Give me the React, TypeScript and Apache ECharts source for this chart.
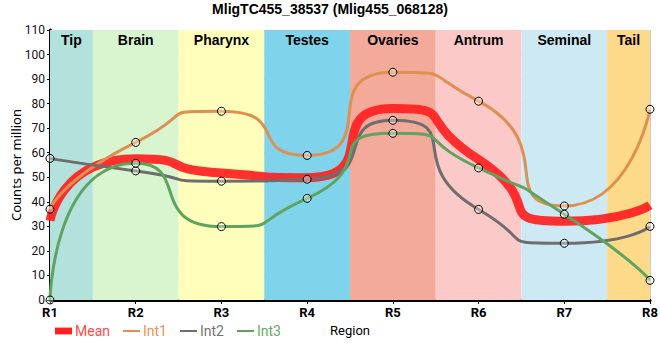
import React, { useEffect, useRef } from "react";
import * as echarts from "echarts";

const regions = ["R1", "R2", "R3", "R4", "R5", "R6", "R7", "R8"];
const tissues = ["Tip", "Brain", "Pharynx", "Testes", "Ovaries", "Antrum", "Seminal", "Tail"];
const tissueColors = ["#b3e2dd", "#d9f5d0", "#ffffbb", "#7fd3ea", "#f4aa9b", "#fcc9c9", "#cdeaf4", "#fdd98a"];
const yTicks = { min: 0, max: 110, interval: 10 };

const meanValues = [32.3, 57.5, 51.7, 49.8, 78, 57.2, 32.1, 38.6];
const int1Values = [37, 64.2, 76.9, 58.9, 92.8, 81, 38.3, 77.7];
const int2Values = [57.7, 52.6, 48.4, 49.2, 73.2, 36.9, 23.1, 30];
const int3Values = [0, 55.7, 29.9, 41.4, 67.9, 53.8, 34.9, 8];

const seriesNames = ["Mean", "Int1", "Int2", "Int3"];
const seriesColors = ["#ff2020", "#de8f52", "#6e6e6e", "#5fa35f"];
const legendTextColors = ["#ff4a4a", "#e5935a", "#737373", "#62a862"];

export default function App() {
  const ref = useRef<HTMLDivElement>(null);
  useEffect(() => {
    document.body.style.margin = "0";
    if (!ref.current) return;
    const chart = echarts.init(ref.current, null, { renderer: "svg" });
    const toPairs = (arr: number[]) => arr.map((v, i) => [i, v]);
    const last = regions.length - 1;
    const bandData = tissues.map((t, i) => [
      {
        name: t,
        xAxis: Math.max(0, i - 0.5),
        itemStyle: { color: tissueColors[i], opacity: 1 },
      },
      { xAxis: Math.min(last, i + 0.5) },
    ]);
    const symbolStyle = {
      color: "rgba(255,255,255,0.35)",
      borderColor: "#000",
      borderWidth: 1,
    };
    const allValues = [meanValues, int1Values, int2Values, int3Values];
    const lineSeries = allValues.map((vals, k) => ({
      name: seriesNames[k],
      type: "line",
      data: toPairs(vals),
      smooth: 0.8,
      z: k === 0 ? 2 : 3,
      showSymbol: k !== 0,
      symbol: k === 0 ? "none" : "circle",
      symbolSize: 8,
      itemStyle: symbolStyle,
      lineStyle: {
        color: seriesColors[k],
        width: k === 0 ? 9 : 3,
        opacity: k === 0 ? 0.92 : 1,
      },
      clip: false,
    }));
    chart.setOption({
      animation: false,
      title: {
        text: "MligTC455_38537 (Mlig455_068128)",
        left: "center",
        top: 2,
        padding: 0,
        textStyle: { fontFamily: "Liberation Sans", fontSize: 14, fontWeight: "bold", color: "#000" },
      },
      grid: { left: 50, right: 10, top: 30, bottom: 60, outerBoundsMode: "none", containLabel: false },
      legend: {
        left: 55,
        top: 324,
        padding: 0,
        itemGap: 13,
        itemWidth: 17,
        itemHeight: 8,
        selectedMode: false,
        textStyle: { fontFamily: "Roboto", fontSize: 14, padding: [0, 0, 0, -2] },
        data: seriesNames.map((n, k) => ({
          name: n,
          icon: k === 0 ? "path://M0,0H20V8H0Z" : "path://M0,0H20V2.4H0Z",
          itemStyle: { color: seriesColors[k], borderWidth: 0, opacity: 1 },
          textStyle: { color: legendTextColors[k] },
        })),
      },
      xAxis: [
        {
          type: "value",
          min: 0,
          max: last,
          interval: 1,
          name: "Region",
          nameLocation: "middle",
          nameGap: 24,
          nameMoveOverlap: false,
          nameTextStyle: { fontFamily: "Roboto", fontSize: 13, color: "#000" },
          axisLine: { show: true, lineStyle: { color: "#000", width: 3 } },
          axisTick: { show: true, length: 4, lineStyle: { color: "#000" } },
          axisLabel: {
            formatter: (v: number) => regions[v] ?? "",
            fontFamily: "Roboto",
            fontSize: 13,
            fontWeight: "bold",
            color: "#000",
            margin: 6,
          },
          splitLine: { show: true, lineStyle: { color: "#c8c8c8", width: 1 } },
        },
        {
          type: "value",
          position: "top",
          min: 0,
          max: last,
          axisLine: { show: true, lineStyle: { color: "#000", width: 2 } },
          axisTick: { show: false },
          axisLabel: { show: false },
          splitLine: { show: false },
        },
      ],
      yAxis: [
        {
          type: "value",
          min: yTicks.min,
          max: yTicks.max,
          interval: yTicks.interval,
          name: "Counts per million",
          nameLocation: "middle",
          nameGap: 28,
          nameMoveOverlap: false,
          nameRotate: 90,
          nameTextStyle: { fontFamily: "Noto Sans", fontSize: 13, color: "#000" },
          axisLine: { show: true, lineStyle: { color: "#000", width: 3 } },
          axisTick: { show: true, length: 3, lineStyle: { color: "#000" } },
          axisLabel: { fontFamily: "Roboto", fontSize: 12, color: "#111", margin: 5 },
          splitLine: { show: true, lineStyle: { color: "#c8c8c8", width: 1 } },
        },
        {
          type: "value",
          position: "right",
          min: yTicks.min,
          max: yTicks.max,
          axisLine: { show: true, lineStyle: { color: "#000", width: 2 } },
          axisTick: { show: false },
          axisLabel: { show: false },
          splitLine: { show: false },
        },
      ],
      series: [
        {
          name: "bands",
          type: "line",
          data: [],
          z: -1,
          silent: true,
          markArea: {
            silent: true,
            label: {
              show: true,
              position: "insideTop",
              distance: 3,
              fontFamily: "Liberation Sans",
              fontSize: 14,
              fontWeight: "bold",
              color: "#000",
            },
            data: bandData,
          },
        },
        ...lineSeries,
      ],
    });
    return () => chart.dispose();
  }, []);
  return <div ref={ref} style={{ width: 660, height: 360 }} />;
}
